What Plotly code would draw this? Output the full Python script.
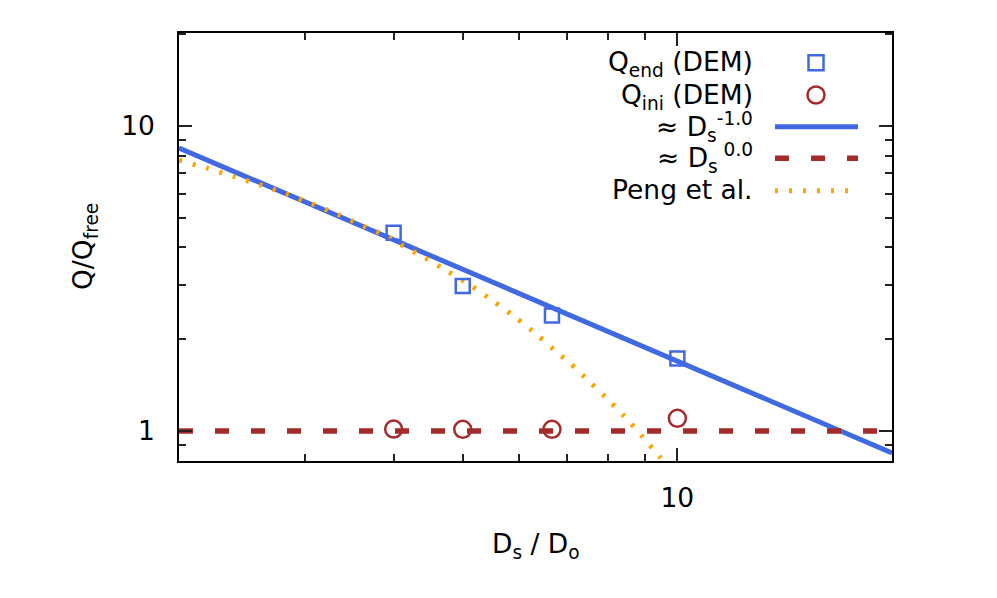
import math
import plotly.graph_objects as go

# ---------------- data ----------------
ds_dem = [4, 5, 6.67, 10]
q_end = [4.47, 2.99, 2.39, 1.73]
q_ini = [1.015, 1.013, 1.013, 1.10]

fit_x = [2, 20]
fit_m1_y = [8.47, 0.847]     # ~ Ds^-1.0
fit_0_y = [1.0, 1.0]         # ~ Ds^0.0

peng_x = [2.0, 2.19, 2.39, 2.60, 2.825, 3.07, 3.34, 3.62, 3.92, 4.08, 4.41, 4.77,
          5.14, 5.54, 5.95, 6.37, 6.76, 7.06, 7.53, 8.03, 8.55, 9.06, 9.33, 9.63]
peng_y = [7.72, 7.27, 6.82, 6.41, 6.00, 5.56, 5.13, 4.71, 4.34, 4.10, 3.71, 3.33,
          2.99, 2.65, 2.34, 2.06, 1.82, 1.675, 1.451, 1.254, 1.078, 0.922, 0.851, 0.78]

x_major = [10]
x_minor = [3, 4, 5, 6, 7, 8, 9, 20]
y_major = [1, 10]
y_minor = [0.9, 2, 3, 4, 5, 6, 7, 8, 9, 20]

legend_labels = ["Q<sub>end</sub> (DEM)", "Q<sub>ini</sub> (DEM)",
                 "≈ D<sub>s</sub><sup>-1.0</sup>", "≈ D<sub>s</sub><sup> 0.0</sup>",
                 "Peng et al."]

# ---------------- style ----------------
BLUE = "#4169E1"
RED = "#A52A2A"
ORANGE = "#FFA500"
FONT = "DejaVu Sans"
FS = 26.5
OFF = 8                      # page body margin of the html
W, H = 997 - OFF, 598 - OFF
ML, MT = 179 - OFF, 33 - OFF
PW, PH = 713, 428
MR, MB = W - ML - PW, H - MT - PH

xr = [math.log10(2), math.log10(20)]
yr = [-0.0984, 1.3049]

fig = go.Figure()
fig.add_trace(go.Scatter(x=fit_x, y=fit_m1_y, mode="lines",
                         line=dict(color=BLUE, width=5), showlegend=False))
fig.add_trace(go.Scatter(x=fit_x, y=fit_0_y, mode="lines",
                         line=dict(color=RED, width=5.5, dash="14px,22px"), showlegend=False))
fig.add_trace(go.Scatter(x=peng_x, y=peng_y, mode="lines",
                         line=dict(color=ORANGE, width=5, dash="3px,11px", shape="spline",
                                   smoothing=0.6),
                         showlegend=False))
fig.add_trace(go.Scatter(x=ds_dem, y=q_end, mode="markers",
                         marker=dict(symbol="square-open", size=14, color=BLUE,
                                     line=dict(width=2.5, color=BLUE)), showlegend=False))
fig.add_trace(go.Scatter(x=ds_dem, y=q_ini, mode="markers",
                         marker=dict(symbol="circle-open", size=17, color=RED,
                                     line=dict(width=2.5, color=RED)), showlegend=False))
# invisible trace for minor-tick axes
fig.add_trace(go.Scatter(x=[3], y=[3], xaxis="x2", yaxis="y2", mode="markers",
                         marker=dict(opacity=0), showlegend=False, hoverinfo="skip"))

axis_common = dict(showline=True, linecolor="black", linewidth=1.5, mirror="ticks",
                   showgrid=False, zeroline=False, ticks="inside", tickcolor="#222",
                   tickwidth=1.5, type="log")

fig.update_layout(
    width=W, height=H,
    margin=dict(l=ML, r=MR, t=MT, b=MB, pad=0),
    paper_bgcolor="white", plot_bgcolor="white",
    font=dict(family=FONT, size=FS, color="black"),
    showlegend=False,
    xaxis=dict(**axis_common, range=xr, tickvals=x_major, ticktext=["10"],
               ticklen=13, ticklabelstandoff=12),
    yaxis=dict(**axis_common, range=yr, tickvals=y_major, ticktext=["1", "10"],
               ticklen=13, ticklabelstandoff=17),
    xaxis2=dict(**axis_common, range=xr, tickvals=x_minor, ticklen=7,
                showticklabels=False, overlaying="x", anchor="y2"),
    yaxis2=dict(**axis_common, range=yr, tickvals=y_minor, ticklen=7,
                showticklabels=False, overlaying="y", anchor="x2"),
)

def px2paper(px, py):
    # px, py are page (screenshot) pixels
    return (px - OFF - ML) / PW, (MT + PH - (py - OFF)) / PH

# axis titles
fig.add_annotation(text="D<sub>s</sub> / D<sub>o</sub>", xref="paper", yref="paper",
                   x=0.5, y=0, yshift=-84, xanchor="center", yanchor="middle",
                   showarrow=False, font=dict(size=FS))
fig.add_annotation(text="Q/Q<sub>free</sub>", xref="paper", yref="paper",
                   x=0, y=0.5, xshift=-95, xanchor="center", yanchor="middle",
                   textangle=-90, showarrow=False, font=dict(size=FS))

# legend (gnuplot style: text right-aligned, sample to the right)
rows_py = [64, 96, 127, 158, 190]
for lab, py in zip(legend_labels, rows_py):
    ax, ay = px2paper(755, py)
    fig.add_annotation(text=lab, xref="paper", yref="paper", x=ax, y=ay,
                       xanchor="right", yanchor="middle", showarrow=False,
                       font=dict(size=FS))

x0, _ = px2paper(775, 0)
x1, _ = px2paper(858, 0)
# square sample
sx0, sy0 = px2paper(816 - 7.5, 62.7 + 7.5)
sx1, sy1 = px2paper(816 + 7.5, 62.7 - 7.5)
fig.add_shape(type="rect", xref="paper", yref="paper", x0=sx0, y0=sy0, x1=sx1, y1=sy1,
              line=dict(color=BLUE, width=2.5))
cx0, cy0 = px2paper(816 - 8.5, 95 + 8.5)
cx1, cy1 = px2paper(816 + 8.5, 95 - 8.5)
fig.add_shape(type="circle", xref="paper", yref="paper", x0=cx0, y0=cy0, x1=cx1, y1=cy1,
              line=dict(color=RED, width=2.5))
_, ly = px2paper(0, 126.7)
fig.add_shape(type="line", xref="paper", yref="paper", x0=x0, y0=ly, x1=x1, y1=ly,
              line=dict(color=BLUE, width=5))
_, ly = px2paper(0, 158.3)
fig.add_shape(type="line", xref="paper", yref="paper", x0=x0, y0=ly, x1=x1, y1=ly,
              line=dict(color=RED, width=5.5, dash="14px,22px"))
_, ly = px2paper(0, 190.7)
fig.add_shape(type="line", xref="paper", yref="paper", x0=x0, y0=ly, x1=x1, y1=ly,
              line=dict(color=ORANGE, width=5, dash="3px,11px"))

fig.write_html("out.html")
